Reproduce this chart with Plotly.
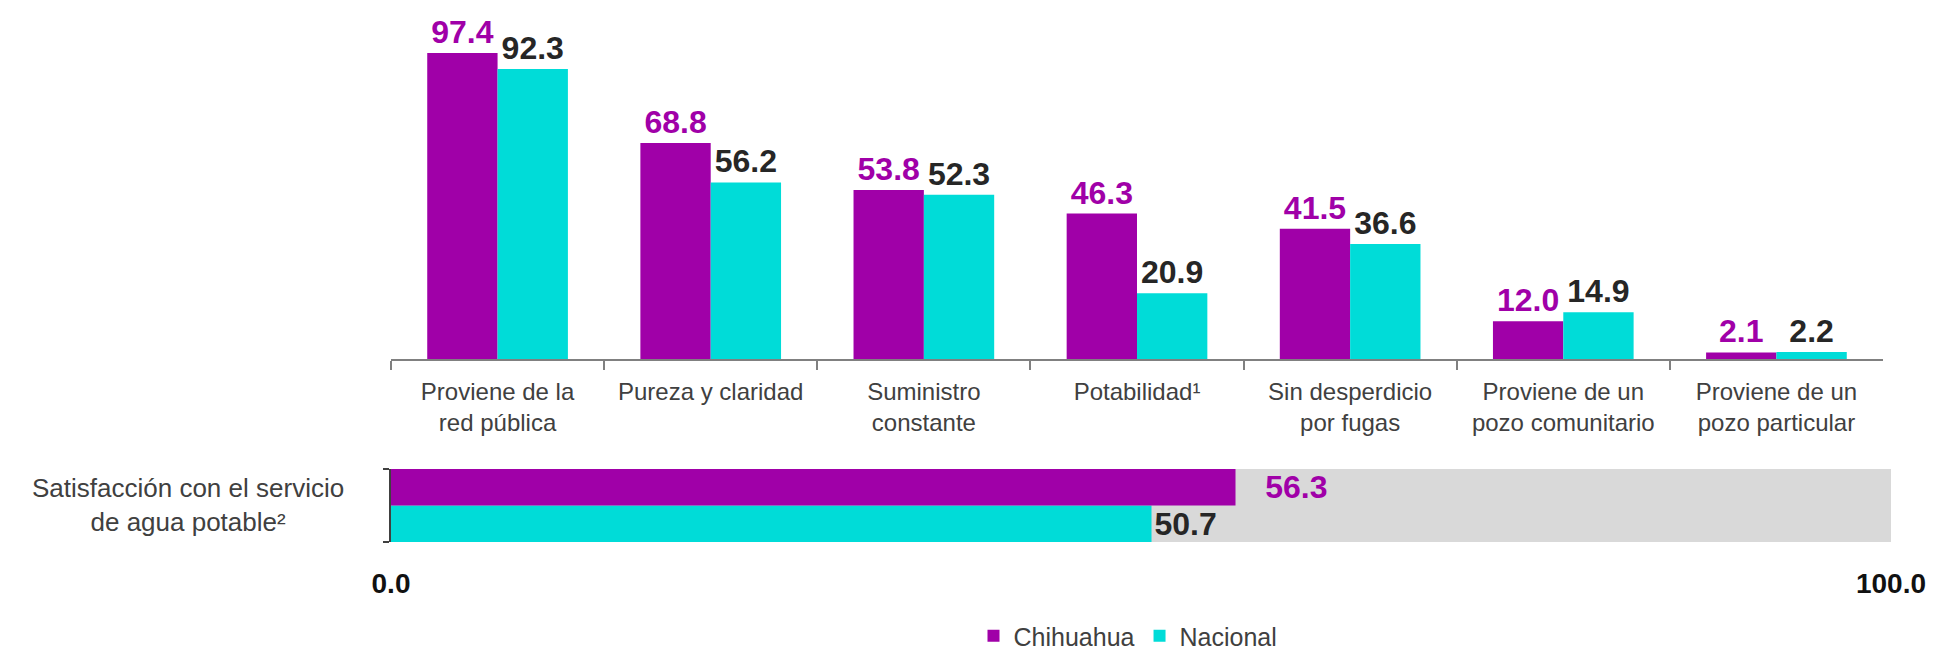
import plotly.graph_objects as go

# ---- data ----
categories = [
    "Proviene de la<br>red pública",
    "Pureza y claridad",
    "Suministro<br>constante",
    "Potabilidad¹",
    "Sin desperdicio<br>por fugas",
    "Proviene de un<br>pozo comunitario",
    "Proviene de un<br>pozo particular",
]
chihuahua = [97.4, 68.8, 53.8, 46.3, 41.5, 12.0, 2.1]
nacional = [92.3, 56.2, 52.3, 20.9, 36.6, 14.9, 2.2]

sat_label = "Satisfacción con el servicio<br>de agua potable²"
sat_chihuahua = [56.3]
sat_nacional = [50.7]
scale_max = 100.0
scale_ticks = [0.0, 100.0]
scale_ticktext = ["0.0", "100.0"]

series_names = ["Chihuahua", "Nacional"]

# ---- style ----
PURPLE = "#A000A8"
CYAN = "#00DCD8"
GRAY_BG = "#D9D9D9"
DARK = "#262626"
LABEL = "#404040"
FONT = "Arial, Liberation Sans, sans-serif"
NUM_SIZE = 32
TXT_SIZE = 24

W, H = 1946, 653
x_left = 391 / W
x_right_top = 1883 / W
x_right_bot = 1891 / W

fig = go.Figure()

# top grouped bars
fig.add_trace(go.Bar(
    x=categories, y=chihuahua, name=series_names[0], marker_color=PURPLE,
    marker_line_width=0, text=[f"{v:.1f}" for v in chihuahua],
    textposition="outside", textfont=dict(color=PURPLE, size=NUM_SIZE, family=FONT, weight="bold"),
    constraintext="none", cliponaxis=False, xaxis="x", yaxis="y",
))
fig.add_trace(go.Bar(
    x=categories, y=nacional, name=series_names[1], marker_color=CYAN,
    marker_line_width=0, text=[f"{v:.1f}" for v in nacional],
    textposition="outside", textfont=dict(color=DARK, size=NUM_SIZE, family=FONT, weight="bold"),
    constraintext="none", cliponaxis=False, xaxis="x", yaxis="y",
))

# bottom horizontal bars (Nacional first so Chihuahua sits on top)
fig.add_trace(go.Bar(
    y=[0], x=sat_nacional, orientation="h", marker_color=CYAN, marker_line_width=0,
    text=[f"{v:.1f}" for v in sat_nacional], textposition="outside",
    textfont=dict(color=DARK, size=NUM_SIZE, family=FONT, weight="bold"),
    constraintext="none", cliponaxis=False, showlegend=False, xaxis="x2", yaxis="y2",
))
fig.add_trace(go.Bar(
    y=[0], x=sat_chihuahua, orientation="h", marker_color=PURPLE, marker_line_width=0,
    text=[f"   {v:.1f}" for v in sat_chihuahua], textposition="outside",
    textfont=dict(color=PURPLE, size=NUM_SIZE, family=FONT, weight="bold"),
    constraintext="none", cliponaxis=False, showlegend=False, xaxis="x2", yaxis="y2",
))

# gray background band up to scale max
fig.add_shape(type="rect", xref="x2", yref="y2 domain", x0=0, x1=scale_max, y0=0, y1=1,
              fillcolor=GRAY_BG, line_width=0, layer="below")

fig.add_annotation(text=sat_label, xref="paper", yref="paper", x=188 / W, y=1 - 505 / H,
                   showarrow=False, align="center", xanchor="center", yanchor="middle",
                   font=dict(size=26, color=LABEL, family=FONT))

fig.update_layout(
    width=W, height=H, margin=dict(l=0, r=0, t=0, b=0, autoexpand=False),
    paper_bgcolor="white", plot_bgcolor="rgba(0,0,0,0)",
    barmode="group", bargap=0.34, bargroupgap=0,
    font=dict(family=FONT, color=LABEL),
    xaxis=dict(domain=[x_left, x_right_top], type="category", showline=True,
               linecolor="#808080", linewidth=1.5, ticks="outside", tickson="boundaries",
               ticklen=9, tickcolor="#808080", tickwidth=1.5, showgrid=False,
               tickfont=dict(size=TXT_SIZE, color=LABEL, family=FONT), anchor="y",
               automargin=False, ticklabelstandoff=10),
    yaxis=dict(domain=[1 - 359 / H, 1.0], range=[0, 114.3], visible=False, anchor="x",
               automargin=False),
    xaxis2=dict(domain=[x_left, x_right_bot], range=[0, scale_max], anchor="y2",
                showline=False, showgrid=False, zeroline=False, tickmode="array",
                tickvals=scale_ticks, ticktext=scale_ticktext, ticks="",
                tickfont=dict(size=28, color="#111111", family=FONT, weight="bold"),
                ticklabelstandoff=22, automargin=False),
    yaxis2=dict(domain=[1 - 542 / H, 1 - 469 / H], range=[-0.33, 0.33], type="linear",
                anchor="x2", showline=True, linecolor="#404040", linewidth=1.5,
                ticks="outside", tickmode="array", tickvals=[-0.329, 0.329], ticklen=6,
                tickcolor="#404040", tickwidth=1.5, showticklabels=False,
                showgrid=False, zeroline=False, automargin=False),
    legend=dict(orientation="h", x=1128 / W, xanchor="center", y=1 - 636 / H,
                yanchor="middle", font=dict(size=25, color=LABEL, family=FONT),
                itemwidth=30, tracegroupgap=0),
)

fig.write_html("out.html", config={"displayModeBar": False},
               post_script="document.body.style.margin='0';document.body.style.overflow='hidden';")
